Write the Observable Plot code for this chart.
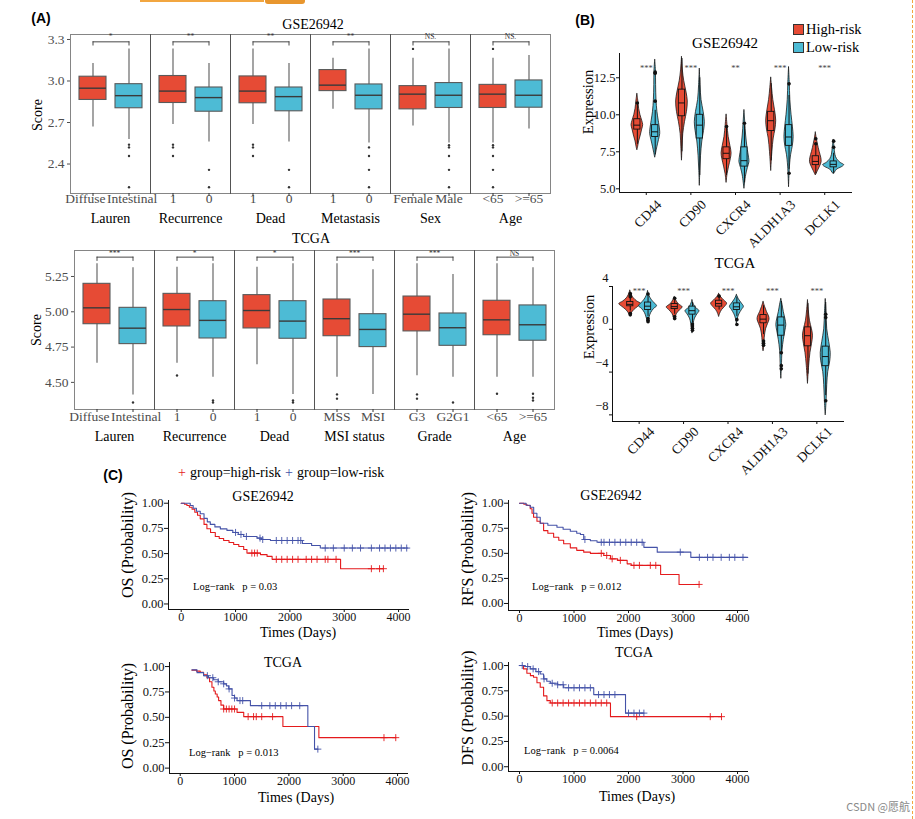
<!DOCTYPE html>
<html><head><meta charset="utf-8">
<script src="https://cdn.jsdelivr.net/npm/d3@7"></script>
<script src="https://cdn.jsdelivr.net/npm/@observablehq/plot@0.6"></script>
<style>
body{margin:0;background:#fff;}
#root{position:relative;width:915px;height:819px;overflow:hidden;background:#fff;font-family:"Liberation Serif",serif;}
.pane{position:absolute;}
.pane svg{overflow:visible;}
.lbl{position:absolute;white-space:pre;line-height:1;}
</style></head><body><div id="root"></div>
<script>
// ---------------- colours ----------------
const RED = "#E64B35", BLUE = "#4DBBD5";
const KM_RED = "#E41A1C", KM_BLUE = "#4452A8";

// ---------------- Panel A : GSE26942 boxplots ----------------
const gseFacets = ["Lauren","Recurrence","Dead","Metastasis","Sex","Age"];
const gseLevels = [["Diffuse","Intestinal"],["1","0"],["1","0"],["1","0"],["Female","Male"],["<65",">=65"]];
// facet, slot, lower whisker, q1, median, q3, upper whisker
const gseStats = [
  ["Lauren",0,2.667,2.863,2.948,3.031,3.127],
  ["Lauren",1,2.577,2.803,2.894,2.977,3.232],
  ["Recurrence",0,2.686,2.841,2.927,3.036,3.232],
  ["Recurrence",1,2.560,2.778,2.880,2.953,3.127],
  ["Dead",0,2.686,2.839,2.927,3.033,3.232],
  ["Dead",1,2.560,2.781,2.887,2.953,3.127],
  ["Metastasis",0,2.795,2.927,2.970,3.079,3.164],
  ["Metastasis",1,2.552,2.795,2.897,2.975,3.232],
  ["Sex",0,2.674,2.795,2.905,2.963,3.164],
  ["Sex",1,2.552,2.805,2.897,2.985,3.232],
  ["Age",0,2.552,2.805,2.905,2.972,3.164],
  ["Age",1,2.654,2.807,2.897,3.004,3.184]
];
const gseOutliers = [
  ["Lauren",1,2.54],["Lauren",1,2.52],["Lauren",1,2.458],["Lauren",1,2.232],
  ["Recurrence",0,2.54],["Recurrence",0,2.52],["Recurrence",0,2.458],
  ["Recurrence",1,2.358],["Recurrence",1,2.232],
  ["Dead",0,2.54],["Dead",0,2.52],["Dead",0,2.458],
  ["Dead",1,2.358],["Dead",1,2.232],
  ["Metastasis",1,2.52],["Metastasis",1,2.458],["Metastasis",1,2.358],["Metastasis",1,2.232],
  ["Sex",0,3.232],
  ["Sex",1,2.536],["Sex",1,2.52],["Sex",1,2.458],["Sex",1,2.358],["Sex",1,2.232],
  ["Age",0,3.232],["Age",0,2.536],["Age",0,2.52],["Age",0,2.458],["Age",0,2.358],["Age",0,2.232]
];
const gseSig = ["*","**","**","**","NS.","NS."];
const gseYTicks = [2.4,2.7,3.0,3.3];

// ---------------- Panel A : TCGA boxplots ----------------
const tcgaFacets = ["Lauren","Recurrence","Dead","MSI status","Grade","Age"];
const tcgaLevels = [["Diffuse","Intestinal"],["1","0"],["1","0"],["MSS","MSI"],["G3","G2G1"],["<65",">=65"]];
const tcgaStats = [
  ["Lauren",0,4.636,4.912,5.028,5.198,5.340],
  ["Lauren",1,4.410,4.771,4.884,5.028,5.311],
  ["Recurrence",0,4.636,4.896,5.016,5.127,5.316],
  ["Recurrence",1,4.537,4.811,4.939,5.075,5.340],
  ["Dead",0,4.625,4.882,5.009,5.118,5.316],
  ["Dead",1,4.415,4.809,4.934,5.075,5.340],
  ["MSI status",0,4.537,4.827,4.951,5.087,5.340],
  ["MSI status",1,4.415,4.750,4.875,4.983,5.297],
  ["Grade",0,4.547,4.861,4.983,5.108,5.340],
  ["Grade",1,4.537,4.759,4.887,4.988,5.264],
  ["Age",0,4.537,4.834,4.943,5.078,5.340],
  ["Age",1,4.537,4.795,4.908,5.045,5.311]
];
const tcgaOutliers = [
  ["Lauren",1,4.358],
  ["Recurrence",0,4.549],["Recurrence",1,4.372],["Recurrence",1,4.358],
  ["Dead",1,4.372],["Dead",1,4.358],
  ["MSI status",0,4.415],["MSI status",0,4.385],
  ["Grade",0,4.415],["Grade",0,4.385],["Grade",1,4.358],
  ["Age",0,4.42],["Age",1,4.42],["Age",1,4.391],["Age",1,4.372]
];
const tcgaSig = ["***","*","*","***","***","NS"];
const tcgaYTicks = [4.5,4.75,5.0,5.25];

// ---------------- Panel B : violins ----------------
const genes = ["CD44","CD90","CXCR4","ALDH1A3","DCLK1"];
const groups = ["High","Low"];
// gene, group, value, half-width (px)
const gseViolin = [
  ["CD44","High",11.4,0],["CD44","High",10.9,1],["CD44","High",10.4,1.8],["CD44","High",10.0,3],["CD44","High",9.6,4.8],["CD44","High",9.3,5.8],["CD44","High",9.0,4.8],["CD44","High",8.6,3.4],["CD44","High",8.2,1.8],["CD44","High",7.8,0.7],["CD44","High",7.6,0],
  ["CD44","Low",13.7,0],["CD44","Low",13.0,0.7],["CD44","Low",12.0,0.9],["CD44","Low",11.0,1.3],["CD44","Low",10.2,2.2],["CD44","Low",9.6,3.5],["CD44","Low",9.0,4.8],["CD44","Low",8.7,5],["CD44","Low",8.3,3.8],["CD44","Low",7.8,2.1],["CD44","Low",7.4,0.9],["CD44","Low",7.1,0],
  ["CD90","High",13.9,0],["CD90","High",13.0,0.9],["CD90","High",12.3,2.2],["CD90","High",11.5,4.6],["CD90","High",10.9,5.8],["CD90","High",10.2,5],["CD90","High",9.5,3],["CD90","High",8.7,1.3],["CD90","High",7.8,0.6],["CD90","High",6.9,0],
  ["CD90","Low",13.1,0],["CD90","Low",12.0,0.7],["CD90","Low",11.0,1.7],["CD90","Low",10.2,3.8],["CD90","Low",9.5,5],["CD90","Low",8.9,4.2],["CD90","Low",8.2,2.5],["CD90","Low",7.2,1.2],["CD90","Low",6.2,0.5],["CD90","Low",5.2,0],
  ["CXCR4","High",10.0,0],["CXCR4","High",9.3,0.9],["CXCR4","High",8.5,2.1],["CXCR4","High",7.9,3.8],["CXCR4","High",7.4,5],["CXCR4","High",7.0,4.2],["CXCR4","High",6.5,2.5],["CXCR4","High",6.0,1],["CXCR4","High",5.4,0],
  ["CXCR4","Low",10.3,0],["CXCR4","Low",9.5,0.8],["CXCR4","Low",8.6,1.7],["CXCR4","Low",7.8,3],["CXCR4","Low",7.1,4.6],["CXCR4","Low",6.8,5],["CXCR4","Low",6.4,3.4],["CXCR4","Low",5.9,1.7],["CXCR4","Low",5.0,0],
  ["ALDH1A3","High",12.5,0],["ALDH1A3","High",11.8,0.9],["ALDH1A3","High",11.0,2.1],["ALDH1A3","High",10.3,3.8],["ALDH1A3","High",9.6,5],["ALDH1A3","High",9.0,4.2],["ALDH1A3","High",8.4,2.5],["ALDH1A3","High",7.5,1.2],["ALDH1A3","High",6.8,0.5],["ALDH1A3","High",6.2,0],
  ["ALDH1A3","Low",13.2,0],["ALDH1A3","Low",12.2,0.7],["ALDH1A3","Low",11.0,1.3],["ALDH1A3","Low",10.0,2.5],["ALDH1A3","Low",9.2,3.8],["ALDH1A3","Low",8.5,4.6],["ALDH1A3","Low",7.9,3.8],["ALDH1A3","Low",7.3,2.1],["ALDH1A3","Low",6.5,0.9],["ALDH1A3","Low",5.1,0],
  ["DCLK1","High",8.8,0],["DCLK1","High",8.4,0.9],["DCLK1","High",8.0,2.1],["DCLK1","High",7.5,3.8],["DCLK1","High",7.1,5.4],["DCLK1","High",6.8,5.8],["DCLK1","High",6.5,4.2],["DCLK1","High",6.2,2.1],["DCLK1","High",5.9,0],
  ["DCLK1","Low",8.3,0],["DCLK1","Low",7.8,0.9],["DCLK1","Low",7.3,1.7],["DCLK1","Low",7.0,3.4],["DCLK1","Low",6.75,7],["DCLK1","Low",6.6,10.5],["DCLK1","Low",6.45,8],["DCLK1","Low",6.3,3.4],["DCLK1","Low",6.1,1.3],["DCLK1","Low",6.0,0]
];
// gene, group, lower, q1, median, q3, upper
const gseVBox = [
  ["CD44","High",8.0,9.0,9.3,9.7,10.7],["CD44","Low",7.3,8.5,8.85,9.3,10.3],
  ["CD90","High",7.5,9.9,10.8,11.7,13.8],["CD90","Low",5.9,8.4,9.3,10.0,12.5],
  ["CXCR4","High",5.9,7.0,7.4,7.8,9.1],["CXCR4","Low",5.4,6.5,6.9,7.8,9.3],
  ["ALDH1A3","High",6.9,8.9,9.6,10.2,12.1],["ALDH1A3","Low",6.3,7.9,8.5,9.3,11.3],
  ["DCLK1","High",6.0,6.6,6.85,7.2,8.0],["DCLK1","Low",6.0,6.45,6.65,6.85,7.4]
];
const gseVOut = [
  ["CD44","High",10.8],["CD44","Low",12.88],["CD44","Low",12.8],["CD44","Low",10.92],
  ["CXCR4","High",9.21],["CXCR4","Low",9.43],
  ["ALDH1A3","Low",12.09],["ALDH1A3","Low",6.05],
  ["DCLK1","High",8.38],["DCLK1","High",8.04],["DCLK1","Low",8.22],["DCLK1","Low",7.81]
];
const gseVSig = ["***","***","**","***","***"];

const tcgaViolin = [
  ["CD44","High",3.6,0],["CD44","High",3.2,1.5],["CD44","High",2.9,3.5],["CD44","High",2.6,7],["CD44","High",2.36,11],["CD44","High",2.1,8],["CD44","High",1.8,4],["CD44","High",1.5,1.5],["CD44","High",1.2,0],
  ["CD44","Low",3.55,0],["CD44","Low",3.1,1.5],["CD44","Low",2.7,4],["CD44","Low",2.4,7],["CD44","Low",2.15,9],["CD44","Low",1.9,6],["CD44","Low",1.5,3],["CD44","Low",1.1,1.5],["CD44","Low",0.65,0],
  ["CD90","High",3.0,0],["CD90","High",2.7,1.5],["CD90","High",2.35,4],["CD90","High",2.05,8],["CD90","High",1.75,5],["CD90","High",1.4,2],["CD90","High",1.1,1],["CD90","High",0.85,0],
  ["CD90","Low",2.7,0],["CD90","Low",2.3,1.5],["CD90","Low",2.0,3.5],["CD90","Low",1.7,7],["CD90","Low",1.4,5],["CD90","Low",1.0,2.5],["CD90","Low",0.5,1.2],["CD90","Low",0.0,0.6],["CD90","Low",-0.4,0],
  ["CXCR4","High",3.3,0],["CXCR4","High",3.0,2],["CXCR4","High",2.7,5],["CXCR4","High",2.4,8],["CXCR4","High",2.1,6],["CXCR4","High",1.8,3],["CXCR4","High",1.45,1],["CXCR4","High",1.15,0],
  ["CXCR4","Low",3.2,0],["CXCR4","Low",2.8,2],["CXCR4","Low",2.4,5],["CXCR4","Low",2.1,7],["CXCR4","Low",1.8,5],["CXCR4","Low",1.4,2.5],["CXCR4","Low",1.0,1],["CXCR4","Low",0.5,0],
  ["ALDH1A3","High",2.55,0],["ALDH1A3","High",2.1,1.5],["ALDH1A3","High",1.6,3.5],["ALDH1A3","High",1.2,5.5],["ALDH1A3","High",0.9,6],["ALDH1A3","High",0.5,4.5],["ALDH1A3","High",0.0,2.5],["ALDH1A3","High",-0.8,1.2],["ALDH1A3","High",-1.6,0.6],["ALDH1A3","High",-2.06,0],
  ["ALDH1A3","Low",2.82,0],["ALDH1A3","Low",2.3,1.2],["ALDH1A3","Low",1.6,2.5],["ALDH1A3","Low",1.0,4],["ALDH1A3","Low",0.4,5],["ALDH1A3","Low",-0.2,4],["ALDH1A3","Low",-1.0,2.5],["ALDH1A3","Low",-2.0,1.2],["ALDH1A3","Low",-3.5,0.6],["ALDH1A3","Low",-4.63,0],
  ["DCLK1","High",2.7,0],["DCLK1","High",1.8,0.8],["DCLK1","High",0.8,2],["DCLK1","High",0.0,4],["DCLK1","High",-0.6,5],["DCLK1","High",-1.4,4],["DCLK1","High",-2.2,2.5],["DCLK1","High",-3.4,1.2],["DCLK1","High",-5.1,0],
  ["DCLK1","Low",2.8,0],["DCLK1","Low",1.5,0.8],["DCLK1","Low",0.0,1.5],["DCLK1","Low",-1.2,3.5],["DCLK1","Low",-2.2,5],["DCLK1","Low",-3.0,4.5],["DCLK1","Low",-4.0,2.5],["DCLK1","Low",-5.2,1.5],["DCLK1","Low",-6.8,0.8],["DCLK1","Low",-8.05,0]
];
const tcgaVBox = [
  ["CD44","High",1.7,2.15,2.33,2.55,2.95],["CD44","Low",1.2,1.8,2.16,2.5,3.2],
  ["CD90","High",1.4,1.89,2.12,2.36,2.8],["CD90","Low",0.6,1.37,1.74,2.12,2.5],
  ["CXCR4","High",1.8,2.12,2.4,2.67,3.0],["CXCR4","Low",1.2,1.8,2.1,2.42,3.0],
  ["ALDH1A3","High",-0.5,0.56,0.95,1.33,2.2],["ALDH1A3","Low",-2.4,-0.6,0.39,1.11,2.6],
  ["DCLK1","High",-4.2,-1.59,-0.6,0.18,2.4],["DCLK1","Low",-6.2,-3.45,-2.55,-1.62,2.5]
];
const tcgaVOut = [
  ["CD44","High",3.35],["CD44","High",3.2],["CD44","High",3.05],["CD44","High",1.5],["CD44","High",1.35],
  ["CD44","Low",3.3],["CD44","Low",1.0],["CD44","Low",0.85],["CD44","Low",0.7],
  ["CD90","High",2.9],["CD90","High",1.2],["CD90","High",1.0],
  ["CD90","Low",0.5],["CD90","Low",0.3],["CD90","Low",0.1],["CD90","Low",-0.1],
  ["CXCR4","High",3.1],["CXCR4","Low",0.9],["CXCR4","Low",0.45],
  ["ALDH1A3","High",-1.1],["ALDH1A3","High",-1.3],["ALDH1A3","High",-1.5],
  ["ALDH1A3","Low",-2.2],["ALDH1A3","Low",-3.4],["ALDH1A3","Low",-3.7],
  ["DCLK1","Low",1.4],["DCLK1","Low",1.1],["DCLK1","Low",-6.68]
];
const tcgaVSig = ["***","***","***","***","***"];

// ---------------- Panel C : Kaplan-Meier ----------------
// [time (days), survival]
const gseOsHigh = [[0,1],[60,0.99],[105,0.977],[150,0.96],[200,0.94],[250,0.91],[300,0.88],[350,0.845],[420,0.79],[473,0.746],[540,0.71],[627,0.67],[700,0.65],[781,0.63],[880,0.61],[966,0.59],[1060,0.57],[1150,0.54],[1210,0.505],[1458,0.49],[1580,0.472],[1673,0.443],[2933,0.35],[3721,0.35]];
const gseOsLow = [[0,1],[166,0.977],[220,0.95],[280,0.92],[350,0.895],[420,0.85],[480,0.815],[535,0.79],[620,0.765],[720,0.745],[842,0.73],[950,0.71],[1050,0.69],[1150,0.67],[1396,0.654],[1480,0.64],[1642,0.63],[2230,0.60],[2400,0.58],[2560,0.555],[4170,0.555]];
const gseOsCensHigh = [1300,1350,1400,1750,1850,1950,2050,2150,2300,2400,2500,2650,2700,2850,3500,3650,3721];
const gseOsCensLow = [1000,1100,1200,1450,1500,1750,1850,1950,2050,2150,2200,2650,2800,3000,3150,3300,3500,3650,3750,3850,3950,4050,4150];

const gseRfsHigh = [[0,1],[80,0.99],[136,0.977],[197,0.944],[230,0.9],[258,0.86],[320,0.82],[380,0.80],[442,0.727],[520,0.70],[626,0.66],[720,0.63],[810,0.595],[932,0.555],[1050,0.53],[1178,0.512],[1300,0.50],[1546,0.479],[1669,0.445],[1800,0.43],[1975,0.395],[2050,0.38],[2589,0.289],[2927,0.19],[3295,0.19]];
const gseRfsLow = [[0,1],[120,0.98],[197,0.96],[260,0.90],[319,0.86],[380,0.80],[520,0.78],[687,0.76],[800,0.74],[932,0.72],[1050,0.70],[1117,0.688],[1178,0.638],[1300,0.625],[1423,0.61],[2282,0.56],[2527,0.512],[3143,0.46],[4188,0.46]];
const gseRfsCensHigh = [1500,1600,1700,1850,2100,2200,2400,2500,3295];
const gseRfsCensLow = [1200,1500,1550,1650,1750,1850,1950,2050,2150,2250,2950,3300,3450,3550,3700,3850,3950,4100];

const tcgaOsHigh = [[216,0.965],[300,0.955],[369,0.944],[430,0.92],[492,0.89],[540,0.85],[584,0.796],[620,0.76],[646,0.73],[680,0.70],[707,0.665],[750,0.62],[800,0.582],[1046,0.549],[1169,0.507],[1890,0.41],[2552,0.30],[3967,0.30]];
const tcgaOsLow = [[216,0.967],[310,0.94],[430,0.91],[520,0.89],[615,0.87],[700,0.85],[800,0.83],[850,0.81],[892,0.78],[954,0.715],[1000,0.69],[1046,0.665],[1292,0.615],[2349,0.41],[2472,0.187],[2533,0.187]];
const tcgaOsCensHigh = [800,850,900,950,1000,1250,1350,1400,1500,1700,3750,3967];
const tcgaOsCensLow = [500,600,700,800,900,1000,1100,1150,1500,1650,1750,1850,1950,2050,2200,2533];

const tcgaDfsHigh = [[0,1],[73,0.967],[135,0.924],[200,0.90],[258,0.884],[320,0.83],[380,0.785],[442,0.70],[503,0.653],[565,0.63],[1669,0.495],[3706,0.495]];
const tcgaDfsLow = [[0,1],[100,0.99],[197,0.967],[300,0.94],[380,0.917],[442,0.868],[500,0.845],[565,0.825],[700,0.81],[810,0.78],[1362,0.713],[1945,0.53],[2282,0.53]];
const tcgaDfsCensHigh = [600,700,800,900,1000,1100,1200,1300,1400,1500,1600,2150,3500,3706];
const tcgaDfsCensLow = [50,150,250,350,450,600,700,800,900,1000,1100,1200,1300,1450,1550,1650,1750,2000,2100,2200,2282];
const kmXTicks = [0,1000,2000,3000,4000];
const kmYTicks = [0,0.25,0.5,0.75,1];

// ---------------- helpers ----------------
const root = document.getElementById("root");
const SERIF = '"Liberation Serif", "Times New Roman", serif';
const SANS = '"Liberation Sans", Arial, sans-serif';
function place(node, left, top) {
  const d = document.createElement("div");
  d.className = "pane"; d.style.left = left + "px"; d.style.top = top + "px";
  d.appendChild(node); root.appendChild(d);
}
function label(text, cx, cy, o = {}) {
  const d = document.createElement("div");
  d.className = "lbl"; d.textContent = text;
  d.style.left = cx + "px"; d.style.top = cy + "px";
  d.style.fontSize = (o.size || 14) + "px";
  d.style.fontFamily = o.family || SERIF;
  d.style.fontWeight = o.weight || "normal";
  d.style.color = o.color || "#000";
  const ax = o.anchor === "start" ? "0%" : o.anchor === "end" ? "-100%" : "-50%";
  d.style.transform = `translate(${ax},-50%)` + (o.rotate ? ` rotate(${o.rotate}deg)` : "");
  root.appendChild(d);
}
const baseStyle = {background: "transparent", fontFamily: SERIF, overflow: "visible"};

// ---------------- boxplot row (panel A) ----------------
function boxRow(c) {
  const boxes = c.stats.map(([facet, slot, lo, q1, med, q3, hi]) => ({facet, slot, lo, q1, med, q3, hi}));
  const outs = c.outliers.map(([facet, slot, v]) => ({facet, slot, v}));
  const levelRows = c.facets.flatMap((f, i) => c.levels[i].map((l, s) => ({facet: f, slot: s, label: l, long: c.levels[i].join("").length > 12})));
  const brk = c.facets.flatMap(f => [0, 1].map(s => ({facet: f, slot: s})));
  const sigRows = c.facets.map((f, i) => ({facet: f, text: c.sig[i]}));
  const edge = "#5a5a5a";
  const lvlStyle = {fx: "facet", x: "slot", text: "label", frameAnchor: "bottom", dy: c.levelDy, fontSize: 13.5, fill: "#4d4d4d"};
  return Plot.plot({
    width: c.width, height: c.height,
    marginLeft: c.ml, marginTop: c.mt, marginRight: c.mr, marginBottom: c.mb,
    style: baseStyle,
    fx: {domain: c.facets, padding: 0},
    x: {type: "band", domain: [0, 1], paddingInner: 0.25, paddingOuter: 0.225},
    y: {domain: c.yDomain},
    color: {type: "identity"},
    marks: [
      Plot.ruleX(boxes, {fx: "facet", x: "slot", y1: "lo", y2: "hi", stroke: edge, strokeWidth: 1.1}),
      Plot.barY(boxes, {fx: "facet", x: "slot", y1: "q1", y2: "q3", fill: d => d.slot ? BLUE : RED, stroke: edge, strokeWidth: 1.1}),
      Plot.tickY(boxes, {fx: "facet", x: "slot", y: "med", stroke: "#3a3a3a", strokeWidth: 1.4}),
      Plot.dot(outs, {fx: "facet", x: "slot", y: "v", r: 1.2, fill: "#333", stroke: null}),
      Plot.line(brk, {fx: "facet", x: "slot", y: () => c.bracketY, z: "facet", stroke: "#333", strokeWidth: 0.9}),
      Plot.ruleX(brk, {fx: "facet", x: "slot", y1: () => c.bracketY, y2: () => c.bracketY - c.tip, stroke: "#333", strokeWidth: 0.9}),
      Plot.text(sigRows, {fx: "facet", y: () => c.sigY, text: "text", fontSize: 7.5, fill: "#333"}),
      // short level names centred under their boxes
      Plot.text(levelRows.filter(d => !d.long), lvlStyle),
      // long level pairs (Diffuse / Intestinal) pushed apart so they abut
      Plot.text(levelRows.filter(d => d.long && d.slot === 0), {...lvlStyle, textAnchor: "end", dx: 12.5}),
      Plot.text(levelRows.filter(d => d.long && d.slot === 1), {...lvlStyle, textAnchor: "start", dx: -22}),
      Plot.frame({stroke: "#333", strokeOpacity: 0.6}),
      Plot.axisY({ticks: c.yTicks, tickFormat: c.yFmt, tickSize: 3, tickPadding: 3, fontSize: 13.5, color: "#4d4d4d", label: null}),
      Plot.axisX({tickSize: 3, tickFormat: () => "", label: null, color: "#333"}),
      Plot.axisFx({anchor: "bottom", tickSize: 0, tickPadding: c.fxPad, fontSize: 14, label: null, color: "#000"})
    ]
  });
}

place(boxRow({facets: gseFacets, levels: gseLevels, stats: gseStats, outliers: gseOutliers, sig: gseSig,
  yDomain: [2.187, 3.336], yTicks: gseYTicks, yFmt: d3.format(".1f"), bracketY: 3.283, tip: 0.03, sigY: 3.322,
  width: 560, height: 230, ml: 69, mt: 34, mr: 9, mb: 37, levelDy: 9, fxPad: 20}), 0, 0);

place(boxRow({facets: tcgaFacets, levels: tcgaLevels, stats: tcgaStats, outliers: tcgaOutliers, sig: tcgaSig,
  yDomain: [4.308, 5.434], yTicks: tcgaYTicks, yFmt: d3.format(".2f"), bracketY: 5.387, tip: 0.03, sigY: 5.415,
  width: 560, height: 230, ml: 74, mt: 34, mr: 6, mb: 37, levelDy: 11, fxPad: 22}), 0, 216);

// ---------------- violin plot (panel B) ----------------
const offset = {High: -0.2, Low: 0.2};
const PX_PER_UNIT = 44.5;
const geneTicks = [0, 1, 2, 3, 4];
function violinPlot(c) {
  const pos = (g, grp) => genes.indexOf(g) + offset[grp];
  const rows = c.violin.map(([gene, group, v, w]) => ({key: gene + group, gene, group, v, w: w / PX_PER_UNIT, p: pos(gene, group)}));
  const boxes = c.box.map(([gene, group, lo, q1, med, q3, hi]) => ({gene, group, lo, q1, med, q3, hi, p: pos(gene, group)}));
  const outs = c.out.map(([gene, group, v]) => ({v, p: pos(gene, group)}));
  const sigRows = genes.map((g, i) => ({i, text: c.sig[i]}));
  const col = d => d.group === "High" ? RED : BLUE;
  const bw = 0.07;
  return Plot.plot({
    width: c.width, height: c.height,
    marginLeft: c.ml, marginTop: c.mt, marginRight: c.mr, marginBottom: c.mb,
    style: baseStyle,
    x: {domain: [-0.6, 4.6]},
    y: {domain: c.yDomain},
    color: {type: "identity"},
    marks: [
      Plot.areaX(rows, {y: "v", x1: d => d.p - d.w, x2: d => d.p + d.w, z: "key", fill: col, stroke: "#111", strokeWidth: 0.75, curve: "catmull-rom"}),
      Plot.ruleX(boxes, {x: "p", y1: "lo", y2: "hi", stroke: "#111", strokeWidth: 1}),
      Plot.rect(boxes, {x1: d => d.p - bw, x2: d => d.p + bw, y1: "q1", y2: "q3", fill: col, stroke: "#111", strokeWidth: 0.9}),
      Plot.ruleY(boxes, {x1: d => d.p - bw, x2: d => d.p + bw, y: "med", stroke: "#111", strokeWidth: 1}),
      Plot.dot(outs, {x: "p", y: "v", r: 1.8, fill: "#111", stroke: null}),
      Plot.text(sigRows, {x: "i", y: () => c.sigY, text: "text", fontSize: 8.5, fill: "#444"}),
      Plot.frame({anchor: "left", stroke: "#111"}),
      Plot.frame({anchor: "bottom", stroke: "#111"}),
      // y ticks, then y labels (labels may sit a little above their tick, as in the reference)
      Plot.axisY({ticks: c.yTicks, tickFormat: () => "", tickSize: 3, color: "#111", label: null}),
      Plot.axisY({ticks: c.yTicks, tickFormat: c.yFmt, tickSize: 0, tickPadding: 4, fontSize: 12.5, color: "#111", dy: c.labelDy, label: null}),
      // x ticks, then rotated gene labels
      Plot.axisX({ticks: geneTicks, tickFormat: () => "", tickSize: 3, color: "#111", label: null}),
      Plot.axisX({ticks: geneTicks, tickFormat: i => genes[i], tickRotate: -45, tickSize: 0, tickPadding: 5, dx: 13, dy: c.geneDy, fontSize: 13.5, color: "#111", label: null})
    ]
  });
}
const minusFmt = d => d < 0 ? "\u2212" + Math.abs(d) : String(d);
place(violinPlot({violin: gseViolin, box: gseVBox, out: gseVOut, sig: gseVSig, sigY: 13.13,
  yDomain: [4.75, 14.14], yTicks: [5, 7.5, 10, 12.5], yFmt: d3.format(".1f"), labelDy: 0, geneDy: 5,
  width: 355, height: 260, ml: 59, mt: 53, mr: 64, mb: 68}), 560, 0);
place(violinPlot({violin: tcgaViolin, box: tcgaVBox, out: tcgaVOut, sig: tcgaVSig, sigY: 3.53,
  yDomain: [-8.62, 4], yTicks: [-8, -4, 0, 4], yFmt: minusFmt, labelDy: -9, geneDy: 3,
  width: 355, height: 200, ml: 52, mt: 16, mr: 72, mb: 49}), 560, 270);

// ---------------- KM plot (panel C) ----------------
function survAt(steps, t) { let s = steps[0][1]; for (const [tt, ss] of steps) { if (tt <= t) s = ss; else break; } return s; }
function kmPlot(c) {
  const rows = [
    ...c.high.map(([t, s]) => ({t, s, col: KM_RED, g: "high"})),
    ...c.low.map(([t, s]) => ({t, s, col: KM_BLUE, g: "low"}))
  ];
  const cens = [
    ...c.censHigh.map(t => ({t, s: survAt(c.high, t), col: KM_RED})),
    ...c.censLow.map(t => ({t, s: survAt(c.low, t), col: KM_BLUE}))
  ];
  return Plot.plot({
    width: c.width, height: c.height,
    marginLeft: c.ml, marginTop: c.mt, marginRight: c.mr, marginBottom: c.mb,
    style: baseStyle,
    x: {domain: c.xDomain},
    y: {domain: c.yDomain},
    color: {type: "identity"},
    marks: [
      Plot.line(rows, {x: "t", y: "s", z: "g", stroke: "col", curve: "step-after", strokeWidth: 1.1}),
      Plot.dot(cens, {x: "t", y: "s", symbol: "plus", r: 2.4, stroke: "col", strokeWidth: 0.9}),
      Plot.frame({anchor: "left", stroke: "#111"}),
      Plot.frame({anchor: "bottom", stroke: "#111"}),
      Plot.axisY({ticks: kmYTicks, tickFormat: d3.format(".2f"), tickSize: 4, tickPadding: 1, fontSize: 12.5, color: "#111", label: null}),
      Plot.axisX({ticks: kmXTicks, tickFormat: d3.format("d"), tickSize: 3, tickPadding: 0, fontSize: 12, color: "#111", label: null})
    ]
  });
}
place(kmPlot({high: gseOsHigh, low: gseOsLow, censHigh: gseOsCensHigh, censLow: gseOsCensLow,
  xDomain: [-234, 4183], yDomain: [-0.055, 1.027], width: 330, height: 170, ml: 68, mt: 30, mr: 22, mb: 31}), 100, 470);
place(kmPlot({high: gseRfsHigh, low: gseRfsLow, censHigh: gseRfsCensHigh, censLow: gseRfsCensLow,
  xDomain: [-202, 4183], yDomain: [-0.07, 1.027], width: 330, height: 170, ml: 78, mt: 30, mr: 13, mb: 30}), 430, 470);
place(kmPlot({high: tcgaOsHigh, low: tcgaOsLow, censHigh: tcgaOsCensHigh, censLow: tcgaOsCensLow,
  xDomain: [-197, 4183], yDomain: [-0.053, 1.04], width: 330, height: 170, ml: 69, mt: 22, mr: 23, mb: 37}), 100, 640);
place(kmPlot({high: tcgaDfsHigh, low: tcgaDfsLow, censHigh: tcgaDfsCensHigh, censLow: tcgaDfsCensLow,
  xDomain: [-202, 4183], yDomain: [-0.047, 1.03], width: 330, height: 170, ml: 78, mt: 22, mr: 13, mb: 39}), 430, 640);

// ---------------- text labels ----------------
label("(A)", 41, 18, {size: 14, weight: "bold", family: SANS});
label("(B)", 585, 20, {size: 14, weight: "bold", family: SANS});
label("(C)", 113, 475, {size: 14, weight: "bold", family: SANS});
label("GSE26942", 313, 25, {size: 14});
label("TCGA", 311, 239, {size: 14});
label("Score", 38, 115, {size: 14, rotate: -90});
label("Score", 37, 330, {size: 14, rotate: -90});

label("GSE26942", 725, 43, {size: 15});
label("TCGA", 735, 263, {size: 15});
label("Expression", 588, 102, {size: 14.5, rotate: -90});
label("Expression", 589, 327, {size: 14.5, rotate: -90});
// legend B
function keySquare(x, y, fill) {
  const d = document.createElement("div");
  d.style.cssText = `position:absolute;left:${x}px;top:${y}px;width:9px;height:9px;background:${fill};border:1px solid #333;`;
  root.appendChild(d);
}
keySquare(793, 24, RED); keySquare(793, 42, BLUE);
label("High-risk", 806, 29, {size: 14.5, anchor: "start"});
label("Low-risk", 806, 47, {size: 14.5, anchor: "start"});

// legend C
label("+", 182, 473, {size: 14, color: KM_RED});
label("group=high-risk", 190, 473, {size: 14, anchor: "start"});
label("+", 289, 473, {size: 14, color: KM_BLUE});
label("group=low-risk", 297, 473, {size: 14, anchor: "start"});

// KM titles and axis titles
label("GSE26942", 263, 497, {size: 14});
label("GSE26942", 611, 496, {size: 14});
label("TCGA", 283, 663, {size: 14});
label("TCGA", 634, 653, {size: 14});
label("OS (Probability)", 128, 545, {size: 16, rotate: -90});
label("RFS (Probability)", 468, 549, {size: 16, rotate: -90});
label("OS (Probability)", 128, 716, {size: 16, rotate: -90});
label("DFS (Probability)", 468, 708, {size: 16, rotate: -90});
label("Times (Days)", 298, 633, {size: 14});
label("Times (Days)", 635, 633, {size: 14});
label("Times (Days)", 296, 798, {size: 14});
label("Times (Days)", 637, 797, {size: 14});
label("Log\u2212rank   p = 0.03", 193, 587, {size: 10.5, anchor: "start"});
label("Log\u2212rank   p = 0.012", 532, 587, {size: 10.5, anchor: "start"});
label("Log\u2212rank   p = 0.013", 189, 753, {size: 10.5, anchor: "start"});
label("Log\u2212rank   p = 0.0064", 524, 751, {size: 10.5, anchor: "start"});

// page decorations
const topBar = document.createElement("div");
topBar.style.cssText = "position:absolute;left:140px;top:0;width:124px;height:2px;background:#f2a640;";
root.appendChild(topBar);
const badge = document.createElement("div");
badge.style.cssText = "position:absolute;left:265px;top:-3px;width:40px;height:7px;background:#e8962e;border-radius:3px;";
root.appendChild(badge);
const dash = document.createElement("div");
dash.style.cssText = "position:absolute;left:912px;top:0;width:0;height:819px;border-left:1.5px dashed #f2a640;";
root.appendChild(dash);
label("CSDN @愿航", 910, 806, {size: 11, anchor: "end", color: "#8a8a8a", family: '"Noto Sans CJK SC", "Noto Sans", sans-serif'});
</script></body></html>
